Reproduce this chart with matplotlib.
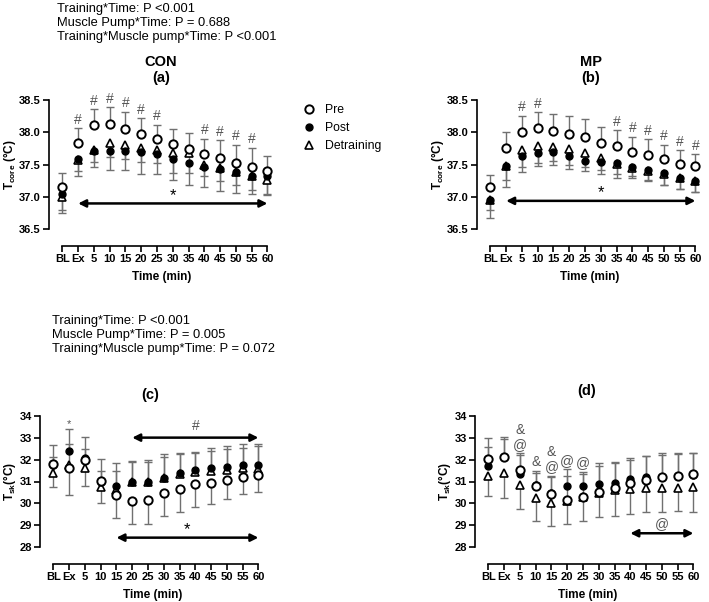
import numpy as np
import matplotlib.pyplot as plt
from matplotlib.lines import Line2D

plt.rcParams['font.family'] = ['Liberation Sans', 'DejaVu Sans']
plt.rcParams['mathtext.fontset'] = 'custom'
plt.rcParams['mathtext.rm'] = 'Liberation Sans'
plt.rcParams['mathtext.bf'] = 'Liberation Sans:bold'

time_labels = ['BL', 'Ex', '5', '10', '15', '20', '25', '30', '35', '40', '45', '50', '55', '60']

# (a) CON, core temperature
pre_a = [37.16, 37.84, 38.11, 38.13, 38.05, 37.98, 37.90, 37.82, 37.74, 37.66, 37.61, 37.53, 37.47, 37.40]
pre_a_sd = [0.21, 0.22, 0.25, 0.26, 0.27, 0.24, 0.22, 0.23, 0.25, 0.24, 0.27, 0.28, 0.29, 0.24]
post_a = [37.04, 37.58, 37.71, 37.71, 37.71, 37.69, 37.66, 37.58, 37.52, 37.47, 37.43, 37.38, 37.32, 37.32]
post_a_sd = [0.29, 0.25, 0.25, 0.29, 0.30, 0.33, 0.31, 0.31, 0.33, 0.32, 0.33, 0.32, 0.27, 0.29]
det_a = [37.00, 37.57, 37.73, 37.83, 37.80, 37.75, 37.72, 37.68, 37.68, 37.49, 37.45, 37.39, 37.33, 37.26]
det_a_sd = [0.20, 0.17, 0.19, 0.21, 0.21, 0.21, 0.20, 0.31, 0.31, 0.16, 0.20, 0.20, 0.22, 0.22]

# (b) MP, core temperature
pre_b = [37.15, 37.75, 38.00, 38.06, 38.02, 37.98, 37.92, 37.84, 37.79, 37.69, 37.65, 37.58, 37.51, 37.48]
pre_b_sd = [0.19, 0.25, 0.26, 0.25, 0.27, 0.27, 0.28, 0.24, 0.24, 0.24, 0.24, 0.23, 0.21, 0.18]
post_b = [36.95, 37.48, 37.63, 37.68, 37.70, 37.64, 37.56, 37.54, 37.52, 37.47, 37.41, 37.37, 37.30, 37.25]
post_b_sd = [0.28, 0.32, 0.24, 0.20, 0.21, 0.20, 0.16, 0.18, 0.22, 0.18, 0.16, 0.19, 0.18, 0.18]
det_b = [36.96, 37.48, 37.72, 37.79, 37.77, 37.74, 37.68, 37.60, 37.51, 37.45, 37.40, 37.36, 37.30, 37.24]
det_b_sd = [0.16, 0.22, 0.26, 0.26, 0.22, 0.24, 0.22, 0.19, 0.15, 0.13, 0.14, 0.17, 0.17, 0.16]

# (c) CON, skin temperature
pre_c = [31.80, 31.60, 31.98, 31.04, 30.37, 30.13, 30.16, 30.49, 30.64, 30.87, 30.95, 31.08, 31.20, 31.30]
pre_c_sd = [1.04, 1.22, 1.19, 1.04, 1.05, 1.08, 1.11, 1.05, 1.02, 1.02, 0.98, 0.88, 0.79, 0.80]
post_c = [31.75, 32.39, 32.05, 31.00, 30.79, 30.96, 30.96, 31.17, 31.37, 31.52, 31.63, 31.66, 31.75, 31.75]
post_c_sd = [0.91, 0.99, 0.99, 1.03, 1.04, 0.97, 1.02, 1.07, 0.91, 0.82, 0.88, 0.97, 0.96, 0.96]
det_c = [31.40, 31.75, 31.63, 30.73, 30.60, 30.96, 30.96, 31.14, 31.34, 31.45, 31.49, 31.52, 31.60, 31.58]
det_c_sd = [0.70, 0.95, 0.84, 0.77, 0.90, 0.94, 0.91, 0.99, 0.91, 0.85, 0.90, 0.95, 0.91, 1.02]

# (d) MP, skin temperature
pre_d = [32.03, 32.13, 31.52, 30.79, 30.41, 30.15, 30.31, 30.50, 30.69, 30.95, 31.07, 31.19, 31.25, 31.34]
pre_d_sd = [0.94, 0.91, 0.76, 0.70, 0.85, 1.11, 1.02, 1.33, 1.21, 1.13, 1.11, 1.09, 1.03, 0.97]
post_d = [31.70, 32.10, 31.34, 30.84, 30.46, 30.79, 30.79, 30.88, 30.95, 31.11, 31.22, 31.20, 31.25, 31.30]
post_d_sd = [0.89, 0.82, 0.86, 0.53, 0.74, 0.78, 0.66, 0.82, 0.90, 0.89, 0.93, 1.02, 1.00, 0.98]
det_d = [31.25, 31.37, 30.84, 30.23, 30.03, 30.11, 30.31, 30.49, 30.61, 30.64, 30.72, 30.72, 30.72, 30.76]
det_d_sd = [0.90, 1.14, 1.10, 1.03, 1.05, 1.06, 1.11, 1.12, 1.18, 1.12, 1.12, 1.09, 1.06, 1.13]

stats_top = ['Training*Time: P <0.001', 'Muscle Pump*Time: P = 0.688',
             'Training*Muscle pump*Time: P <0.001']
stats_bottom = ['Training*Time: P <0.001', 'Muscle Pump*Time: P = 0.005',
                'Training*Muscle pump*Time: P = 0.072']

hash_a = ['Ex', '5', '10', '15', '20', '25', '40', '45', '50', '55']
hash_b = ['5', '10', '35', '40', '45', '50', '55', '60']
marks_d = [('5', '&\n@'), ('10', '&'), ('15', '&\n@'), ('20', '@'), ('25', '@')]

x = np.arange(len(time_labels))
idx = {t: i for i, t in enumerate(time_labels)}
bar_col = '#707070'
sym_col = '#555555'


def half_bars(ax, y, sd, sign):
    y = np.array(y)
    end = y + sign * np.array(sd)
    ax.vlines(x, y, end, color=bar_col, lw=1.0, zorder=1)
    ax.plot(x, end, ls='none', marker='_', ms=6, mew=1.0, color=bar_col, zorder=1)
    return end


def panel(ax, pre, pre_sd, post, post_sd, det, det_sd, signs, ylim, yticks, ylabel):
    ends = [half_bars(ax, d, s, g) for d, s, g in
            zip([pre, post, det], [pre_sd, post_sd, det_sd], signs)]
    ax.plot(x, det, ls='none', marker='^', ms=6, mfc='white', mec='k', mew=1.2, zorder=2)
    ax.plot(x, post, ls='none', marker='o', ms=5, mfc='k', mec='k', zorder=3)
    ax.plot(x, pre, ls='none', marker='o', ms=6, mfc='white', mec='k', mew=1.4, zorder=4)
    ax.set_xlim(-0.85, 13.4)
    ax.set_ylim(*ylim)
    ax.set_yticks(yticks)
    ax.set_xticks(x, time_labels)
    for s in ['top', 'right']:
        ax.spines[s].set_visible(False)
    ax.spines['left'].set_bounds(*ylim)
    ax.spines['bottom'].set_bounds(0, len(x) - 1)
    ax.spines['bottom'].set_position(('outward', 12))
    for s in ['left', 'bottom']:
        ax.spines[s].set_linewidth(1.2)
    ax.tick_params(labelsize=8, width=1.2, length=4, pad=2)
    for lbl in ax.get_xticklabels() + ax.get_yticklabels():
        lbl.set_fontweight('bold')
    ax.set_xlabel('Time (min)', fontsize=8.5, fontweight='bold', labelpad=5)
    ax.set_ylabel(ylabel, fontsize=8.5, fontweight='bold', labelpad=0.5)
    return ends


def arrow(ax, start, end, y, label, label_y, color='k', size=11):
    ax.annotate('', xy=(idx[end], y), xytext=(idx[start], y),
                arrowprops=dict(arrowstyle='<|-|>', color='k', lw=1.8,
                                mutation_scale=11, shrinkA=0, shrinkB=0))
    ax.text((idx[start] + idx[end]) / 2, label_y, label, ha='center', va='center',
            fontsize=size, color=color)


def marks(ax, tops, labels, text='#'):
    for t in labels:
        ax.annotate(text, (idx[t], tops[idx[t]]), xytext=(0, 1), textcoords='offset points',
                    ha='center', va='bottom', fontsize=10, color=sym_col)


fig = plt.figure(figsize=(7.09, 6.02), dpi=100)
W, H = 709, 602


def axes_at(left, bottom_px, height_px):
    return fig.add_axes([left / W, 1 - bottom_px / H, 224.7 / W, height_px / H])


ax_a = axes_at(49, 229.3, 129.3)
ax_b = axes_at(477, 229.3, 129.3)
ax_c = axes_at(40, 547.3, 131.6)
ax_d = axes_at(475, 547.3, 131.6)

core_lbl = r'$\mathbf{T_{core}}$ (°C)'
sk_lbl = r'$\mathbf{T_{sk}}$(°C)'
core_ticks = [36.5, 37.0, 37.5, 38.0, 38.5]
sk_ticks = [28, 29, 30, 31, 32, 33, 34]

ends_a = panel(ax_a, pre_a, pre_a_sd, post_a, post_a_sd, det_a, det_a_sd,
               (1, -1, -1), (36.5, 38.5), core_ticks, core_lbl)
ends_b = panel(ax_b, pre_b, pre_b_sd, post_b, post_b_sd, det_b, det_b_sd,
               (1, -1, -1), (36.5, 38.5), core_ticks, core_lbl)
ends_c = panel(ax_c, pre_c, pre_c_sd, post_c, post_c_sd, det_c, det_c_sd,
               (-1, 1, 1), (28, 34), sk_ticks, sk_lbl)
ends_d = panel(ax_d, pre_d, pre_d_sd, post_d, post_d_sd, det_d, det_d_sd,
               (1, 1, -1), (28, 34), sk_ticks, sk_lbl)
for a in (ax_a, ax_b):
    a.yaxis.set_major_formatter(plt.FormatStrFormatter('%.1f'))

marks(ax_a, ends_a[0], hash_a)
marks(ax_b, ends_b[0], hash_b)
ax_c.annotate('*', (idx['Ex'], ends_c[1][idx['Ex']]), xytext=(0, 0), textcoords='offset points',
              ha='center', va='bottom', fontsize=8, color=sym_col)
for t, s in marks_d:
    top = max(ends_d[0][idx[t]], ends_d[1][idx[t]])
    ax_d.annotate(s, (idx[t], top), xytext=(0, 1), textcoords='offset points',
                  ha='center', va='bottom', fontsize=10, color=sym_col, linespacing=1.1)

arrow(ax_a, 'Ex', '60', 36.9, '*', 37.02, size=12)
arrow(ax_b, 'Ex', '60', 36.94, '*', 37.06, size=12)
arrow(ax_c, '20', '60', 33.0, '#', 33.55, color=sym_col, size=10)
arrow(ax_c, '15', '60', 28.44, '*', 28.8, size=12)
arrow(ax_d, '40', '60', 28.64, '@', 29.05, color=sym_col, size=10)

# titles
fig.text(161 / W, 1 - 62 / H, 'CON', ha='center', va='center', fontsize=10.5, fontweight='bold')
fig.text(161 / W, 1 - 78 / H, '(a)', ha='center', va='center', fontsize=10.5, fontweight='bold')
fig.text(591 / W, 1 - 62 / H, 'MP', ha='center', va='center', fontsize=10.5, fontweight='bold')
fig.text(591 / W, 1 - 78 / H, '(b)', ha='center', va='center', fontsize=10.5, fontweight='bold')
fig.text(150 / W, 1 - 395 / H, '(c)', ha='center', va='center', fontsize=10.5, fontweight='bold')
fig.text(587 / W, 1 - 391 / H, '(d)', ha='center', va='center', fontsize=10.5, fontweight='bold')

for i, s in enumerate(stats_top):
    fig.text(57 / W, 1 - (9 + 14 * i) / H, s, ha='left', va='center', fontsize=9.3)
for i, s in enumerate(stats_bottom):
    fig.text(52 / W, 1 - (321 + 14 * i) / H, s, ha='left', va='center', fontsize=9.3)

handles = [Line2D([], [], ls='none', marker='o', ms=6, mfc='white', mec='k', mew=1.4),
           Line2D([], [], ls='none', marker='o', ms=5, mfc='k', mec='k'),
           Line2D([], [], ls='none', marker='^', ms=6, mfc='white', mec='k', mew=1.2)]
fig.legend(handles, ['Pre', 'Post', 'Detraining'], loc='upper left',
           bbox_to_anchor=(298 / W, 1 - 99 / H), frameon=False, fontsize=8.8,
           handlelength=1.0, handletextpad=0.8, labelspacing=0.5, borderaxespad=0)

fig.savefig('out.png', dpi=100)
